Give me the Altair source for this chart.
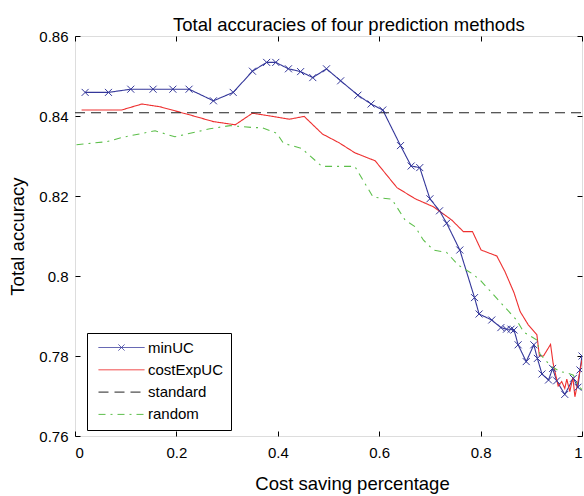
import altair as alt
import pandas as pd

# ---------------- data ----------------
series_names = ["minUC", "costExpUC", "standard", "random"]

minuc_x = [0.020, 0.066, 0.110, 0.154, 0.193, 0.225, 0.273, 0.312, 0.350, 0.378,
           0.396, 0.421, 0.445, 0.469, 0.496, 0.524, 0.558, 0.584, 0.607, 0.642,
           0.663, 0.680, 0.700, 0.719, 0.733, 0.759, 0.788, 0.797, 0.822, 0.840,
           0.851, 0.860, 0.866, 0.874, 0.890, 0.905, 0.912, 0.921, 0.934, 0.942,
           0.950, 0.966, 0.983, 0.992, 0.996, 1.000]
minuc_y = [0.8459, 0.8459, 0.8467, 0.8467, 0.8467, 0.8467, 0.8438, 0.8459, 0.8512, 0.8534,
           0.8534, 0.8518, 0.8511, 0.8496, 0.8518, 0.8488, 0.8452, 0.8430, 0.8415, 0.8326,
           0.8275, 0.8271, 0.8193, 0.8163, 0.8132, 0.8065, 0.7946, 0.7905, 0.7890, 0.7871,
           0.7867, 0.7867, 0.7865, 0.7828, 0.7786, 0.7828, 0.7794, 0.7755, 0.7740, 0.7769,
           0.7738, 0.7704, 0.7744, 0.7722, 0.7765, 0.7800]

cost_x = [0.013, 0.092, 0.132, 0.168, 0.223, 0.273, 0.316, 0.350, 0.385, 0.423,
          0.452, 0.488, 0.521, 0.552, 0.592, 0.635, 0.671, 0.707, 0.743, 0.766,
          0.784, 0.801, 0.832, 0.848, 0.866, 0.878, 0.894, 0.911, 0.916, 0.924,
          0.938, 0.943, 0.953, 0.960, 0.966, 0.970, 0.976, 0.982, 0.986, 0.992,
          0.996, 1.000]
cost_y = [0.8415, 0.8415, 0.8430, 0.8423, 0.8404, 0.8386, 0.8378, 0.8407, 0.8400, 0.8392,
          0.8399, 0.8355, 0.8333, 0.8308, 0.8288, 0.8221, 0.8193, 0.8173, 0.8140, 0.8111,
          0.8111, 0.8065, 0.8050, 0.8011, 0.7958, 0.7911, 0.7878, 0.7853, 0.7800, 0.7800,
          0.7829, 0.7782, 0.7725, 0.7736, 0.7719, 0.7742, 0.7711, 0.7747, 0.7698, 0.7736,
          0.7763, 0.7790]

standard_x = [0.0, 1.0]
standard_y = [0.8408, 0.8408]

random_x = [0.003, 0.063, 0.095, 0.158, 0.197, 0.266, 0.306, 0.352, 0.368, 0.398,
            0.411, 0.447, 0.487, 0.552, 0.588, 0.625, 0.651, 0.671, 0.687, 0.707,
            0.733, 0.756, 0.782, 0.799, 0.832, 0.871, 0.885, 0.911, 0.917, 0.938,
            0.957, 0.970, 0.983, 0.991, 1.000]
random_y = [0.8328, 0.8336, 0.8347, 0.8363, 0.8348, 0.8368, 0.8376, 0.8371, 0.8371, 0.8357,
            0.8332, 0.8319, 0.8274, 0.8274, 0.8197, 0.8192, 0.8140, 0.8123, 0.8090, 0.8065,
            0.8059, 0.8027, 0.8007, 0.7990, 0.7944, 0.7890, 0.7860, 0.7840, 0.7805, 0.7775,
            0.7761, 0.7758, 0.7752, 0.7730, 0.7715]

x_ticks = [0, 0.2, 0.4, 0.6, 0.8, 1.0]
y_ticks = [0.76, 0.77, 0.78, 0.79, 0.80, 0.81, 0.82, 0.83, 0.84, 0.85, 0.86]

# ---------------- styles ----------------
colors = ["#34379a", "#ee3030", "#222222", "#5dbf4b"]
dashes = [[1, 0], [1, 0], [10, 6], [7, 5, 2, 5]]
legend_shapes = [
    "M-4.6,0L4.6,0M-0.6,-0.6L0.6,0.6M-0.6,0.6L0.6,-0.6",
    "M-4.6,0L4.6,0",
    "M-4.6,0L4.6,0",
    "M-4.6,0L4.6,0",
]
FONT = "Liberation Sans"
W, H = 507, 400

frames = []
for name, xs, ys in [("minUC", minuc_x, minuc_y), ("costExpUC", cost_x, cost_y),
                     ("standard", standard_x, standard_y), ("random", random_x, random_y)]:
    frames.append(pd.DataFrame({"x": xs, "y": ys, "series": name}))
df = pd.concat(frames, ignore_index=True)
df_min = df[df.series == "minUC"]

legend = alt.Legend(
    title=None, orient="none", legendX=12, legendY=297,
    labelFont=FONT, labelFontSize=15, labelColor="black",
    strokeColor="black", fillColor="white", padding=7,
    symbolSize=100, symbolStrokeWidth=1, symbolOffset=20,
    labelOffset=19, rowPadding=6.3, cornerRadius=0,
)

x_enc = alt.X("x:Q", scale=alt.Scale(domain=[0, 1], nice=False, zero=False),
              axis=alt.Axis(values=x_ticks, format="~g", grid=True,
                            gridDash=[5, H - 10, 5, 0], gridColor="black",
                            gridOpacity=1, gridWidth=1, domain=False, ticks=False,
                            labelFont=FONT, labelFontSize=15, labelColor="black",
                            labelPadding=9, title="Cost saving percentage",
                            titleFont=FONT, titleFontSize=18.5, titleFontWeight="normal",
                            titleColor="black", titleX=277, titleY=53,
                            titleBaseline="alphabetic", titleAlign="center"))
y_enc = alt.Y("y:Q", scale=alt.Scale(domain=[0.76, 0.86], nice=False, zero=False),
              axis=alt.Axis(values=y_ticks, format="~g", grid=True,
                            gridDash=[5, W - 10, 5, 0], gridColor="black",
                            gridOpacity=1, gridWidth=1, domain=False, ticks=False,
                            labelFont=FONT, labelFontSize=15, labelColor="black",
                            labelPadding=7, title="Total accuracy",
                            titleFont=FONT, titleFontSize=18.5, titleFontWeight="normal",
                            titleColor="black", titleX=-51.5, titleY=H / 2,
                            titleBaseline="alphabetic", titleAlign="center",
                            titleAngle=270))

color_enc = alt.Color("series:N", scale=alt.Scale(domain=series_names, range=colors),
                      legend=legend, sort=series_names)
dash_enc = alt.StrokeDash("series:N", scale=alt.Scale(domain=series_names, range=dashes),
                          legend=legend, sort=series_names)
shape_enc = alt.Shape("series:N", scale=alt.Scale(domain=series_names, range=legend_shapes),
                      legend=legend, sort=series_names)

lines = alt.Chart(df).mark_line(strokeWidth=1.1, clip=True).encode(
    x=x_enc, y=y_enc, color=color_enc, strokeDash=dash_enc
)

points = alt.Chart(df_min).mark_point(
    shape="M-1,-1L1,1M-1,1L1,-1", size=49, filled=False,
    color=colors[0], strokeWidth=1, opacity=1, clip=True
).encode(x="x:Q", y="y:Q")

legend_layer = alt.Chart(df).transform_filter(alt.datum.x < -10).mark_point(
    size=100, filled=False, strokeWidth=1, opacity=1
).encode(x="x:Q", y="y:Q", color=color_enc, strokeDash=dash_enc, shape=shape_enc)

chart = alt.layer(lines, points, legend_layer).properties(
    width=W, height=H,
    title=alt.TitleParams("Total accuracies of four prediction methods",
                          font=FONT, fontSize=18.5, fontWeight="normal", color="black",
                          anchor="start", frame="group", dx=98, dy=22,
                          baseline="alphabetic", offset=2),
    autosize=alt.AutoSizeParams(type="none"),
    padding={"left": 75, "top": 36, "right": 2, "bottom": 60},
).configure_view(stroke="black", strokeWidth=1).configure(background="white")

chart.save("out.html", embed_options={"renderer": "svg", "actions": False})
